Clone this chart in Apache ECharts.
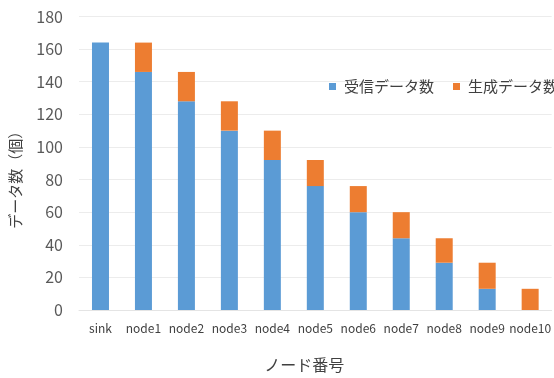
<!DOCTYPE html>
<html>
<head>
<meta charset="utf-8">
<script src="https://cdn.jsdelivr.net/npm/echarts@6/dist/echarts.min.js"></script>
<style>html,body{margin:0;padding:0;background:#fff}#c{width:554px;height:378px}</style>
</head>
<body>
<div id="c"></div>
<script>
const categories = ['sink','node1','node2','node3','node4','node5','node6','node7','node8','node9','node10'];
const received = [164,146,128,110,92,76,60,44,29,13,0];
const generated = [0,18,18,18,18,16,16,16,15,16,13];
const seriesNames = ['受信データ数','生成データ数'];
const yTicks = {min:0, max:180, interval:20};
const xTitle = 'ノード番号';
const yTitle = 'データ数（個）';

const font = '"Noto Sans CJK JP", "Noto Sans", sans-serif';
const chart = echarts.init(document.getElementById('c'));
chart.setOption({
  animation:false,
  textStyle:{fontFamily:font},
  grid:{left:78,right:0,top:16.5,bottom:65,containLabel:false},
  legend:{
    left:324, top:74, width:400, itemWidth:7, itemHeight:7, itemGap:19,
    icon:'rect',
    textStyle:{fontSize:15,color:'#404040',fontFamily:font,padding:[0,0,0,3]},
    data:seriesNames
  },
  xAxis:{
    type:'category', data:categories,
    axisLine:{show:true,lineStyle:{color:'#e4e4e4'}},
    axisTick:{show:false},
    axisLabel:{fontSize:12,color:'#404040',margin:12,interval:0},
    name:xTitle, nameLocation:'middle', nameGap:47,
    nameTextStyle:{fontSize:16,color:'#404040',padding:[0,22,0,0]}
  },
  yAxis:{
    type:'value', min:yTicks.min, max:yTicks.max, interval:yTicks.interval,
    axisLine:{show:false}, axisTick:{show:false},
    splitLine:{lineStyle:{color:'#ececec'}},
    axisLabel:{fontSize:16,color:'#595959',margin:16},
    name:yTitle, nameLocation:'middle', nameGap:56, nameRotate:90,
    nameTextStyle:{fontSize:15,color:'#404040',padding:[0,0,0,-26]}
  },
  series:[
    {name:seriesNames[0],type:'bar',stack:'s',data:received,barWidth:17,itemStyle:{color:'#5b9bd5'}},
    {name:seriesNames[1],type:'bar',stack:'s',data:generated,barWidth:17,itemStyle:{color:'#ed7d31'}}
  ]
});
</script>
</body>
</html>
